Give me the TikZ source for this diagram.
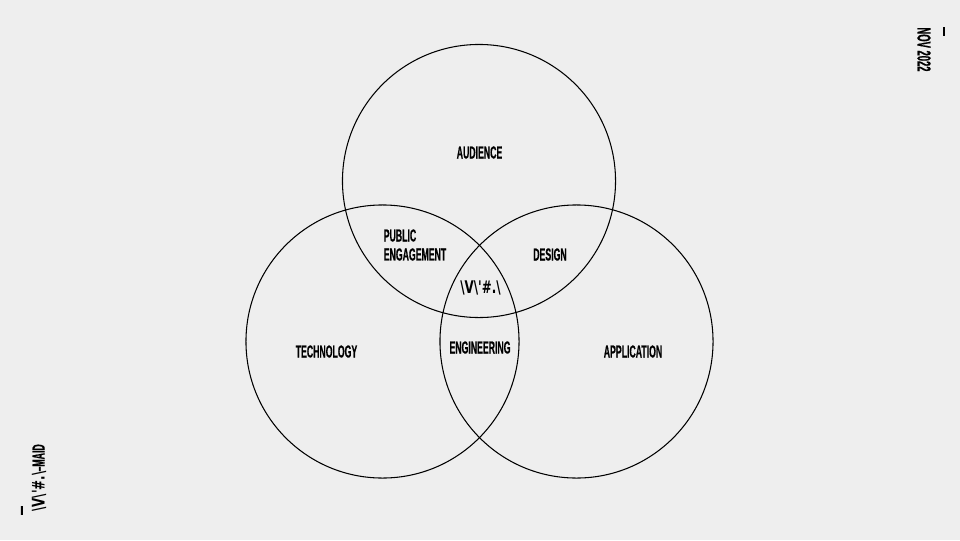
\documentclass[tikz,border=0pt]{standalone}
\usepackage{fontspec}
\setmainfont[FakeStretch=.5,FakeBold=.5]{Liberation Sans Bold}
\newfontfamily\yearfont[FakeStretch=.68]{DejaVu Sans Bold}
\definecolor{paper}{HTML}{EEEEEE}
\newcommand{\yearmark}{{\yearfont\textbackslash V\textbackslash'\#.\textbackslash}}
\tikzset{
  ring/.style={draw=black,line width=.75pt},
  tag/.style={font=\fontsize{12.4}{13.5}\selectfont,inner sep=0pt,align=left},
  margintag/.style={tag,rotate=-90}
}
\begin{document}
\begin{tikzpicture}[x=.025cm,y=-.025cm]
    \useasboundingbox[fill=paper] (0,0) rectangle (960,540);
    \draw[ring] (479,181) circle (3.4125cm);
    \draw[ring] (382.5,341.5) circle (3.4125cm);
    \draw[ring] (576.5,341.5) circle (3.4125cm);
    \node[tag] (audience) at (479.5,152.5) {AUDIENCE};
    \node[tag] (public) at (415,245) {PUBLIC\\ENGAGEMENT};
    \node[tag] (design) at (550,254.5) {DESIGN};
    \node[tag] (year) at (480.5,288) {\yearmark};
    \node[tag] (technology) at (326.5,351.5) {TECHNOLOGY};
    \node[tag] (engineering) at (480,347.5) {ENGINEERING};
    \node[tag] (application) at (633,351.5) {APPLICATION};
    \node[margintag,font=\fontsize{13.4}{14}\selectfont] (date) at (924,49.5) {NOV 2022};
    \node[margintag,rotate=180] (maid) at (39,478) {\yearmark--MAID};
    \node[margintag] (dashtop) at (942,31.5) {---};
    \node[margintag] (dashbottom) at (20,510.5) {---};
\end{tikzpicture}
\end{document}
